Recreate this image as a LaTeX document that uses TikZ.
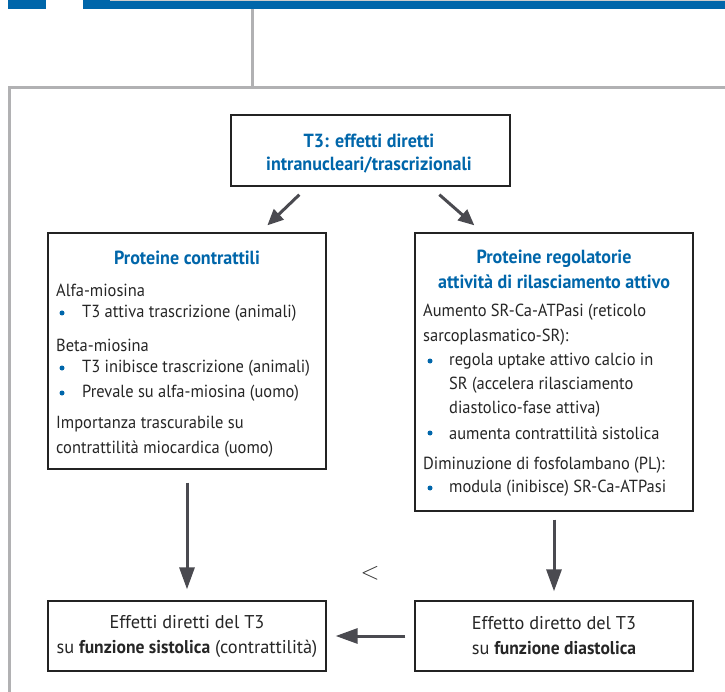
\documentclass[tikz,border=0pt]{standalone}
\usepackage{fontspec}
\setmainfont{PT Sans}[FakeStretch=0.94]
\newfontfamily\headfont{PT Sans}[FakeStretch=0.95]
\newfontfamily\botfont{PT Sans}[FakeStretch=0.99]
\usetikzlibrary{arrows.meta,calc}
\definecolor{hblue}{RGB}{0,102,170}
\definecolor{framegray}{RGB}{177,177,179}
\definecolor{arrgray}{RGB}{74,74,80}
\definecolor{boxline}{RGB}{35,35,35}
\tikzset{
  x=1pt, y=-1pt,
  box/.style={draw=boxline, line width=1.3pt, fill=white, inner sep=0pt},
  headtxt/.style={text=hblue, font=\headfont\bfseries\fontsize{19}{24}\selectfont, align=center, inner sep=0pt},
  bodytxt/.style={font=\fontsize{17.5}{24}\selectfont, anchor=west, inner sep=0pt, text=black!85},
  bottxt/.style={font=\botfont\fontsize{18.5}{25}\selectfont, align=center, inner sep=0pt, text=black!85},
  bul/.style={circle, fill=hblue, inner sep=0pt, minimum size=5pt},
  arr/.style={draw=arrgray, line width=3pt, -{Triangle[length=22pt,width=15pt]}},
  sarr/.style={draw=arrgray, line width=3pt, -{Triangle[length=16pt,width=14pt]}},
  frame/.style={draw=framegray, line width=3pt}
}
\begin{document}
\begin{tikzpicture}
\useasboundingbox (0,0) rectangle (725,692);
% top bar
\fill[hblue] (8,0) rectangle (46,9);
\fill[hblue] (83,0) rectangle (725,9);
\fill[black!20] (110,0) rectangle (725,1);
% gray frame
\coordinate (fa) at (252,9);
\coordinate (fb) at (252,88);
\coordinate (fc) at (9.5,88);
\coordinate (fd) at (725,88);
\coordinate (fe) at (9.5,692);
\draw[frame] (fa) -- (fb);
\draw[frame] (fd) -- (fc) -- (fe);

% boxes
\node[box, minimum width=279pt, minimum height=71pt] (top) at (370.5,150.5) {};
\node[headtxt, font=\headfont\bfseries\fontsize{19}{23}\selectfont] (toptxt) at (369,153.5) {T3: effetti diretti\\intranucleari/trascrizionali};

\node[box, minimum width=278pt, minimum height=236pt] (lbox) at (187,351) {};
\node[box, minimum width=278pt, minimum height=278pt] (rbox) at (554,372) {};
\node[box, minimum width=278pt, minimum height=70pt] (bl) at (187,636) {};
\node[box, minimum width=278pt, minimum height=70pt] (br) at (554,636) {};

% left box text
\node[headtxt] (lhead) at (187,258) {Proteine contrattili};
\node[bodytxt] (l1) at (56,290) {Alfa-miosina};
\node[bul] (lb1) at (62,313) {};
\node[bodytxt] (l2) at (82,313) {T3 attiva trascrizione (animali)};
\node[bodytxt] (l3) at (56,345) {Beta-miosina};
\node[bul] (lb2) at (62,368) {};
\node[bodytxt] (l4) at (82,368) {T3 inibisce trascrizione (animali)};
\node[bul] (lb3) at (62,393) {};
\node[bodytxt] (l5) at (82,393) {Prevale su alfa-miosina (uomo)};
\node[bodytxt] (l6) at (56,424) {Importanza trascurabile su};
\node[bodytxt] (l7) at (56,449) {contrattilità miocardica (uomo)};

% right box text
\node[headtxt, font=\headfont\bfseries\fontsize{19}{25}\selectfont] (rhead) at (554,269.5) {Proteine regolatorie\\attività di rilasciamento attivo};
\node[bodytxt] (r1) at (423,312) {Aumento SR-Ca-ATPasi (reticolo};
\node[bodytxt] (r2) at (423,337) {sarcoplasmatico-SR):};
\node[bul] (rb1) at (430,361) {};
\node[bodytxt] (r3) at (449,361) {regola uptake attivo calcio in};
\node[bodytxt] (r4) at (449,385) {SR (accelera rilasciamento};
\node[bodytxt] (r5) at (449,409) {diastolico-fase attiva)};
\node[bul] (rb2) at (430,433) {};
\node[bodytxt] (r6) at (449,433) {aumenta contrattilità sistolica};
\node[bodytxt] (r7) at (423,465) {Diminuzione di fosfolambano (PL):};
\node[bul] (rb3) at (430,488) {};
\node[bodytxt] (r8) at (449,488) {modula (inibisce) SR-Ca-ATPasi};

% bottom texts
\node[bottxt] (bltxt) at (187,636) {Effetti diretti del T3\\su {\headfont\bfseries funzione sistolica} (contrattilità)};
\node[bottxt] (brtxt) at (554,636) {Effetto diretto del T3\\su {\headfont\bfseries funzione diastolica}};

% less-than sign
\node[font=\fontsize{36}{36}\selectfont, inner sep=0pt, text=black!80] (lt) at (370,573) {$<$};

% arrows
\draw[sarr] ($(top.south west)+(69,8)$) -- ($(lbox.north west)+(220,-7)$);
\draw[sarr] ($(top.south west)+(209,8)$) -- ($(rbox.north west)+(60,-7)$);
\draw[arr, shorten <=13pt, shorten >=11pt] (lbox.south) -- (bl.north);
\draw[arr, shorten <=8pt, shorten >=9pt] (rbox.south) -- (br.north);
\draw[arr, shorten <=9pt, shorten >=9pt] (br.west) -- (bl.east);
\end{tikzpicture}
\end{document}
